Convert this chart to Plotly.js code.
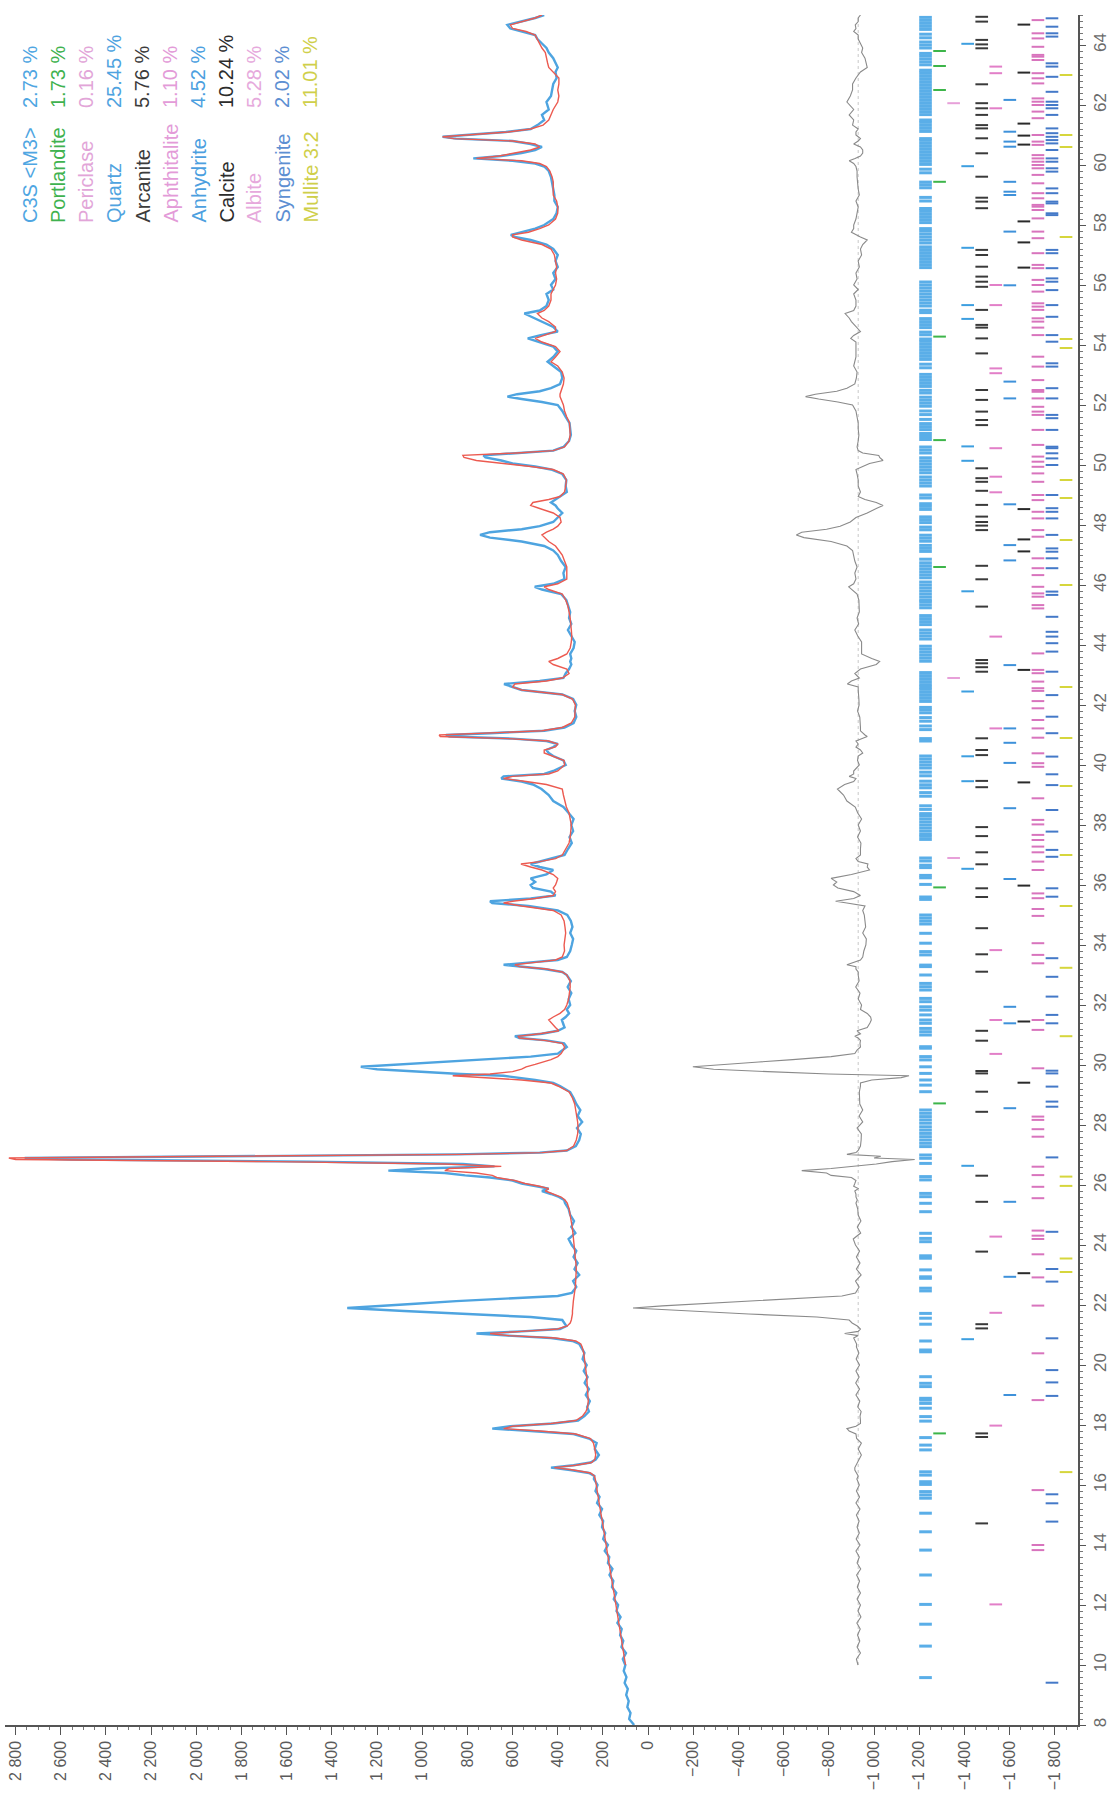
<!DOCTYPE html>
<html><head><meta charset="utf-8">
<script src="https://cdn.plot.ly/plotly-3.0.1.min.js"></script>
<style>html,body{margin:0;padding:0;background:#fff}#chart{width:1109px;height:1793px}</style>
</head><body><div id="chart"></div>
<script>
// ---------- pattern data (2θ in degrees, intensity in counts) ----------
const twoTheta = [
 8.0, 8.2, 8.4, 8.6, 8.8, 9.0, 9.2, 9.4, 9.6, 9.8, 10.0,
 10.2, 10.4, 10.6, 10.8, 11.0, 11.2, 11.4, 11.6, 11.8, 12.0, 12.2, 12.4, 12.6, 12.8, 13.0, 13.2, 13.4, 13.6, 13.8, 14.0, 14.2, 14.4, 14.6, 14.8, 15.0, 15.2, 15.4, 15.6, 15.8, 16.0, 16.2,
 16.3, 16.4, 16.5, 16.58, 16.66, 16.75, 16.85, 17.0, 17.2, 17.4, 17.55, 17.7, 17.8, 17.88, 17.96, 18.05, 18.15, 18.3, 18.45, 18.6,
 18.8, 19.0, 19.2, 19.4, 19.6, 19.8, 20.0, 20.2, 20.4, 20.6,
 20.7, 20.8, 20.9, 20.98, 21.05, 21.12, 21.2, 21.3, 21.4, 21.5, 21.6, 21.7, 21.8, 21.9, 21.97, 22.04, 22.13, 22.22, 22.3, 22.4,
 22.6, 22.8, 23.0, 23.2, 23.4, 23.6, 23.8, 24.0, 24.2, 24.4, 24.6, 24.8, 25.0, 25.2, 25.4,
 25.5, 25.6, 25.7, 25.8, 25.88, 25.96, 26.05, 26.15, 26.25, 26.32, 26.4, 26.48, 26.55, 26.62, 26.7, 26.78, 26.85, 26.9, 26.96, 27.02, 27.08, 27.15, 27.3,
 27.5, 27.7, 27.9, 28.1, 28.3, 28.5, 28.7, 28.9, 29.1, 29.3,
 29.4, 29.5, 29.58, 29.64, 29.7, 29.78, 29.86, 29.94, 30.02, 30.1, 30.18, 30.28, 30.38, 30.5,
 30.6, 30.72, 30.82, 30.9, 30.96, 31.04, 31.14, 31.25, 31.4, 31.5, 31.6, 31.72, 31.85, 32.0,
 32.2, 32.4, 32.6, 32.8, 33.0, 33.1, 33.2, 33.28, 33.34, 33.42, 33.5, 33.6, 33.8, 34.0, 34.2, 34.4, 34.6, 34.8, 35.0, 35.15, 35.3, 35.4, 35.46, 35.55, 35.65, 35.78, 35.9, 36.0, 36.1, 36.22, 36.35, 36.5, 36.6, 36.7, 36.78, 36.88, 37.0, 37.2, 37.4, 37.6, 37.8, 38.0, 38.2, 38.4, 38.6, 38.8, 39.0, 39.2, 39.35, 39.45, 39.55, 39.62, 39.7, 39.8, 39.9, 40.0,
 40.15, 40.3, 40.4, 40.5, 40.6, 40.7, 40.8, 40.88, 40.95, 41.0, 41.06, 41.14, 41.25, 41.4, 41.6, 41.8, 42.0, 42.2, 42.35, 42.5, 42.6, 42.7, 42.8, 42.9, 43.05, 43.2, 43.35, 43.45, 43.55, 43.7, 43.9, 44.1, 44.3, 44.5, 44.7, 44.9, 45.1, 45.3,
 45.5, 45.7, 45.85, 45.94, 46.04, 46.2, 46.4, 46.6, 46.8, 47.0, 47.15, 47.3, 47.45, 47.58, 47.67, 47.76, 47.86, 47.96, 48.1, 48.25, 48.4, 48.55, 48.65, 48.75, 48.85, 48.95, 49.1, 49.3, 49.5, 49.7, 49.85, 49.95, 50.05, 50.15, 50.25, 50.32, 50.4, 50.48, 50.6, 50.8,
 51.0, 51.2, 51.4, 51.6, 51.8, 52.0, 52.1, 52.2, 52.28, 52.36, 52.46, 52.56, 52.7, 52.9, 53.1, 53.3, 53.44, 53.6, 53.78, 53.95, 54.1, 54.22, 54.32, 54.45, 54.6, 54.78, 54.9, 55.05, 55.15, 55.3, 55.5,
 55.7, 55.85, 56.0, 56.2, 56.4, 56.6, 56.8, 57.0, 57.2, 57.35, 57.5, 57.6, 57.67, 57.76, 57.88, 58.0, 58.2, 58.4, 58.6, 58.8, 59.0, 59.2, 59.44, 59.6, 59.8, 59.95, 60.05, 60.14, 60.22, 60.3, 60.4, 60.5, 60.6, 60.7, 60.8, 60.88, 60.94, 61.0, 61.1, 61.2, 61.33, 61.5, 61.67, 61.85, 62.1, 62.3, 62.5, 62.7, 62.9, 63.1, 63.25, 63.4, 63.56, 63.75, 63.9, 64.05, 64.2, 64.33, 64.45, 64.55, 64.67, 64.78, 64.9, 65.0
];
const observed = [
 62, 84, 78, 92, 86, 97, 90, 104, 96, 108, 101,
 112, 98, 118, 110, 124, 117, 136, 122, 140, 133, 152, 141, 160, 154, 171, 158, 178, 172, 192, 178, 199, 190, 204, 199, 216, 204, 226, 215, 233, 224, 240,
 238, 262, 345, 430, 330, 255, 232, 218, 236, 228, 262, 330, 520, 690, 610, 420, 310, 282, 262, 270,
 258, 276, 262, 281, 268, 285, 272, 290, 282, 300,
 305, 335, 430, 620, 760, 560, 390, 362, 372, 380, 520, 820, 1080, 1332, 1200, 1030, 850, 600, 400, 338,
 318, 332, 305, 326, 312, 330, 318, 338, 352, 322, 340, 328, 345, 352, 368,
 372, 395, 430, 470, 440, 500, 560, 600, 700, 810, 900, 1150, 1000, 680, 820, 1500, 2550, 2760, 1800, 850, 480, 360, 320,
 305, 298, 315, 292, 312, 300, 318, 330, 345, 390,
 420, 500, 570, 640, 830, 1000, 1200, 1272, 1100, 900, 720, 520, 400, 380,
 360, 372, 450, 570, 590, 470, 400, 370, 378, 382, 365, 350, 360, 345,
 352, 340, 356, 342, 360, 380, 460, 580, 640, 520, 400, 360, 345, 338, 332, 345, 335, 342, 358, 400, 530, 690, 700, 520, 410, 430, 510, 520, 500, 520, 450, 420, 480, 520, 480, 420, 370, 355, 338, 348, 332, 340, 330, 352, 375, 420, 440, 472, 510, 560, 650, 640, 460, 420, 390, 365,
 375, 420, 440, 450, 420, 400, 450, 600, 880, 895, 700, 460, 370, 330, 318, 325, 318, 332, 380, 560, 600, 638, 480, 375, 365, 350, 340, 345, 340, 345, 330, 325, 340, 355, 340, 350, 345, 352,
 362, 385, 470, 502, 420, 370, 375, 365, 385, 400, 420, 460, 560, 700, 744, 700, 560, 480, 420, 400, 380, 400, 410, 430, 410, 390, 360, 365, 362, 380, 430, 500, 600, 650, 720, 729, 560, 420, 375, 350,
 342, 345, 348, 365, 380, 400, 470, 560, 623, 580, 480, 430, 390, 380, 385, 420, 445, 420, 400, 420, 480, 533, 480, 400, 420, 470, 510, 548, 480, 450, 440,
 450, 420, 430, 410, 420, 400, 410, 400, 420, 450, 520, 590, 608, 560, 500, 460, 420, 405, 400, 415, 415, 420, 425, 430, 440, 460, 500, 600, 774, 650, 560, 500, 470, 520, 600, 850, 910, 800, 630, 520, 490, 460, 470, 440, 450, 430, 425, 420, 405, 410, 400, 410, 420, 440, 450, 470, 490, 500, 560, 610, 623, 560, 500, 460
];
const calculated = [
 null, null, null, null, null, null, null, null, null, null, 100,
 104, 108, 113, 117, 121, 126, 130, 134, 139, 143, 147, 151, 156, 160, 164, 169, 173, 177, 182, 186, 190, 195, 199, 203, 208, 212, 216, 221, 225, 229, 234,
 238, 255, 330, 415, 320, 250, 236, 232, 236, 242, 255, 320, 480, 640, 600, 430, 320, 290, 275, 268,
 265, 266, 268, 270, 272, 275, 278, 281, 285, 292,
 298, 320, 410, 620, 700, 560, 400, 358, 345, 340, 337, 335, 335, 335, 333, 332, 331, 330, 328, 326,
 322, 320, 318, 318, 320, 322, 324, 326, 330, 333, 336, 340, 345, 350, 358,
 368, 385, 420, 455, 440, 480, 545, 590, 670, 690, 760, 900, 880, 650, 900, 1650, 2800, 2830, 1900, 800, 470, 360, 330,
 318, 312, 310, 312, 316, 320, 325, 335, 350, 400,
 430, 560, 760, 865, 700, 600, 560, 540, 500, 460, 430, 400, 385, 375,
 370, 380, 460, 570, 575, 480, 395, 410, 430, 440, 420, 390, 370, 360,
 352, 348, 345, 346, 360, 380, 450, 570, 590, 500, 410, 380, 370, 372, 368, 365, 368, 372, 385, 420, 560, 640, 600, 500, 420, 410, 420, 410, 405, 400, 420, 470, 520, 563, 480, 410, 380, 365, 350, 345, 342, 340, 345, 350, 362, 370, 375, 380, 450, 540, 640, 600, 440, 400, 385, 370,
 372, 420, 460, 460, 410, 400, 440, 620, 920, 925, 720, 470, 380, 340, 325, 322, 322, 335, 380, 560, 600, 590, 450, 380, 350, 360, 420, 440, 400, 360, 345, 340, 338, 340, 342, 345, 350, 355,
 365, 380, 440, 460, 400, 360, 360, 360, 370, 380, 395, 410, 440, 460, 470, 450, 420, 400, 385, 390, 420, 480, 520, 510, 440, 390, 370, 365, 362, 375, 420, 520, 650, 760, 815, 820, 580, 420, 370, 350,
 345, 345, 348, 360, 370, 375, 380, 385, 390, 390, 385, 380, 375, 372, 380, 400, 430, 410, 390, 410, 470, 500, 460, 410, 410, 440, 470, 490, 460, 440, 430,
 430, 420, 410, 405, 410, 405, 410, 415, 430, 470, 560, 600, 600, 530, 480, 440, 410, 400, 400, 405, 420, 420, 420, 425, 435, 450, 480, 560, 760, 660, 580, 520, 480, 500, 600, 860, 910, 790, 620, 520, 465, 440, 430, 420, 400, 395, 400, 395, 395, 420, 440, 445, 450, 455, 470, 480, 490, 500, 540, 600, 610, 560, 500, 470
];

// ---------- phases (legend) ----------
const phaseNames = ["C3S &lt;M3&gt;", "Portlandite", "Periclase", "Quartz", "Arcanite", "Aphthitalite", "Anhydrite", "Calcite", "Albite", "Syngenite", "Mullite 3:2"];
const phasePercents = ["2.73 %", "1.73 %", "0.16 %", "25.45 %", "5.76 %", "1.10 %", "4.52 %", "10.24 %", "5.28 %", "2.02 %", "11.01 %"];

// ---------- reflection positions (2θ) per phase ----------
const c3sPeaks = [9.58, 10.63, 11.36, 12.02, 13.0, 13.83, 14.44, 15.06, 15.56, 15.67, 15.78, 16.02, 16.11, 16.33, 16.44, 17.17, 17.33, 17.58, 18.13, 18.28, 18.56, 18.72, 18.83, 18.89, 19.28, 19.39, 19.61, 20.44, 20.5, 20.8, 21.36, 21.56, 21.72, 22.47, 22.56, 22.89, 22.94, 23.17, 23.56, 23.64, 24.11, 24.22, 24.39, 25.11, 25.39, 25.61, 25.72, 26.17, 26.28, 26.72, 26.89, 27.0, 27.28, 27.39, 27.5, 27.61, 27.72, 27.83, 27.94, 28.06, 28.17, 28.28, 28.39, 28.5, 29.11, 29.33, 29.5, 29.72, 29.94, 30.17, 30.28, 30.56, 30.61, 31.0, 31.11, 31.22, 31.39, 31.5, 31.67, 31.83, 31.94, 32.11, 32.22, 32.5, 32.61, 32.72, 33.0, 33.28, 33.33, 33.67, 33.78, 34.06, 34.39, 34.7, 34.8, 34.9, 35.0,
 35.52, 35.6, 36.02, 36.24, 36.32, 36.58, 36.66, 36.8, 36.9, 37.52, 37.62, 37.7, 37.8, 37.9, 38.0, 38.1, 38.2, 38.3, 38.38, 38.52, 38.64, 38.96, 39.08, 39.24, 39.34, 39.46, 39.64, 39.76, 39.9, 40.0, 40.1, 40.2, 40.3, 40.8, 40.88, 41.18, 41.3, 41.46, 41.58, 41.74, 41.84, 41.92, 42.12, 42.22, 42.32, 42.42, 42.52, 42.6, 42.68, 42.78, 42.88, 42.98, 43.08, 43.46, 43.56, 43.66, 43.76, 43.86, 43.96, 44.2, 44.3, 44.4, 44.5, 44.68, 44.78, 44.88, 44.98, 45.24, 45.34, 45.44,
 45.5, 45.6, 45.7, 45.8, 45.9, 46.0, 46.1, 46.24, 46.34, 46.44, 46.54, 46.64, 46.74, 46.86, 47.12, 47.22, 47.32, 47.46, 47.56, 47.66, 47.84, 47.93, 48.08, 48.18, 48.27, 48.52, 48.62, 48.71, 48.9, 49.0, 49.3, 49.4, 49.5, 49.6, 49.74, 49.84, 49.94, 50.04, 50.14, 50.24, 50.4, 50.5, 50.6, 50.85, 50.95, 51.05, 51.18, 51.28, 51.38, 51.52, 51.68, 51.8, 51.96, 52.06, 52.16, 52.26, 52.4, 52.49, 52.62, 52.72, 52.82, 52.92, 53.02, 53.24, 53.36, 53.52, 53.62, 53.72, 53.82, 53.92, 54.02, 54.12, 54.2, 54.34, 54.43, 54.58, 54.68, 54.78, 54.88, 55.08, 55.16, 55.3, 55.4,
 55.5, 55.6, 55.7, 55.8, 55.9, 56.0, 56.1, 56.58, 56.68, 56.78, 56.88, 56.98, 57.08, 57.18, 57.27, 57.4, 57.5, 57.6, 57.7, 57.8, 57.88, 58.08, 58.18, 58.28, 58.38, 58.48, 58.55, 58.8, 58.92, 59.24, 59.34, 59.43, 59.74, 59.86, 60.02, 60.12, 60.22, 60.32, 60.42, 60.52, 60.62, 60.72, 60.82, 60.88, 61.12, 61.22, 61.32, 61.42, 61.5, 61.68, 61.78, 61.88, 61.98, 62.08, 62.18, 62.28, 62.38, 62.48, 62.58, 62.68, 62.78, 62.88, 62.98, 63.08, 63.16, 63.34, 63.44, 63.54, 63.64, 63.72, 63.9, 64.0, 64.1, 64.24, 64.36, 64.52, 64.62, 64.72, 64.82, 64.92];
const portlanditePeaks = [17.72, 28.72, 35.92, 46.6, 50.83, 54.28, 59.44, 62.5, 63.3, 63.8];
const periclasePeaks = [36.9, 42.9, 62.06];
const quartzPeaks = [20.86, 26.64, 36.54, 39.46, 40.29, 42.45, 45.79, 50.14, 50.62, 54.87, 55.33, 57.24, 59.96, 64.04];
const arcanitePeaks = [14.72, 17.6, 17.72, 21.22, 21.36, 23.78, 25.44, 26.31, 28.44, 29.11, 29.72, 29.8, 30.81, 31.14, 33.11, 33.69, 34.56, 35.6, 35.89, 36.69, 37.09, 37.63, 37.93, 39.26, 39.47, 40.33, 40.5, 40.89, 43.11, 43.26, 43.39, 43.5, 45.28, 46.19, 46.64, 47.83, 47.98, 48.1, 48.28, 48.67, 49.14, 49.44, 49.56, 49.89, 51.33, 51.5, 51.78, 52.17, 52.5, 53.72, 54.22, 54.58, 54.67, 55.17, 55.94, 56.11, 56.28, 56.61, 57.0, 57.17, 58.56, 58.78, 58.91, 59.61, 60.39, 60.89, 61.22, 61.33, 61.67, 61.89, 62.06, 62.69, 63.89, 64.02, 64.17, 64.78, 64.94];
const aphthitalitePeaks = [12.02, 17.98, 21.74, 24.28, 30.37, 31.5, 33.83, 41.22, 44.28, 49.09, 49.61, 50.56, 53.06, 53.22, 55.33, 56.0, 61.89, 63.06, 63.28];
const anhydritePeaks = [19.0, 22.94, 25.44, 28.56, 31.39, 31.94, 36.2, 38.56, 40.07, 40.74, 41.22, 43.33, 46.82, 47.33, 48.69, 52.22, 52.78, 55.99, 57.78, 59.0, 59.11, 59.44, 60.61, 60.78, 61.11, 62.17];
const calcitePeaks = [23.06, 29.41, 31.45, 35.98, 39.42, 43.17, 47.12, 47.52, 48.53, 56.58, 57.42, 58.12, 60.68, 60.98, 61.38, 63.08, 64.68];
const albitePeaks = [13.83, 14.0, 15.83, 18.83, 20.39, 21.98, 22.92, 23.69, 24.2, 24.31, 24.48, 25.56, 25.94, 26.33, 26.61, 27.61, 27.86, 28.17, 28.28, 29.89, 31.17, 31.5, 33.39, 33.67, 34.06, 34.97, 35.2, 35.56, 35.72, 36.5, 36.78, 37.09, 37.28, 37.5, 37.67, 38.02, 38.17, 38.89, 39.94, 40.06, 40.39, 40.91, 41.22, 41.5, 41.89, 42.13, 42.47, 42.56, 42.78, 43.06, 43.17, 43.72, 45.22, 45.33, 45.61, 45.72, 45.94, 46.33, 46.56, 46.89, 47.61, 47.83, 48.22, 48.44, 48.83, 49.0, 49.44, 49.72, 49.94, 50.11, 50.28, 50.67, 51.17, 51.67, 51.78, 51.94, 52.22, 52.44, 52.5, 52.83, 53.28, 53.61, 54.33, 54.58, 54.78, 54.89, 55.17, 55.28, 55.39, 55.78, 56.0, 56.17, 56.56, 56.67, 57.06, 57.56, 57.78, 58.22, 58.5, 58.61, 58.67, 58.89, 59.06, 59.39, 59.67, 59.89, 60.0, 60.11, 60.22, 60.33, 60.67, 60.78, 61.0, 61.56, 61.78, 62.0, 62.11, 62.22, 62.72, 62.89, 63.06, 63.5, 63.61, 63.67, 63.94, 64.22, 64.39, 64.83];
const syngenitePeaks = [9.41, 14.78, 15.39, 15.69, 18.97, 19.42, 19.83, 20.89, 22.78, 23.2, 24.44, 26.92, 28.61, 28.78, 29.28, 29.72, 29.81, 31.39, 31.67, 32.28, 32.94, 33.56, 35.61, 35.89, 36.94, 37.17, 37.78, 38.5, 39.33, 39.69, 40.28, 41.06, 41.61, 42.33, 43.11, 43.78, 44.06, 44.28, 44.44, 44.94, 45.67, 45.78, 46.56, 46.89, 47.11, 47.22, 47.67, 48.22, 48.44, 48.56, 49.0, 50.0, 50.22, 50.39, 50.56, 50.61, 51.17, 51.56, 51.67, 52.22, 52.56, 53.28, 53.39, 54.11, 54.33, 54.94, 55.33, 55.83, 56.11, 56.22, 56.56, 57.06, 57.17, 58.33, 58.39, 58.72, 58.78, 59.06, 59.22, 59.78, 59.89, 60.11, 60.22, 60.5, 60.72, 60.83, 60.94, 61.06, 61.22, 61.67, 61.89, 62.0, 62.11, 62.44, 62.94, 63.28, 63.39, 64.28, 64.39, 64.61, 64.89];
const mullitePeaks = [16.43, 23.1, 23.55, 25.97, 26.28, 30.96, 33.24, 35.3, 37.0, 39.3, 40.9, 42.6, 46.0, 47.5, 48.9, 49.5, 53.9, 54.2, 57.6, 60.6, 61.0, 63.0];

// ---------- styling ----------
const phasePeaks = [c3sPeaks, portlanditePeaks, periclasePeaks, quartzPeaks, arcanitePeaks, aphthitalitePeaks, anhydritePeaks, calcitePeaks, albitePeaks, syngenitePeaks, mullitePeaks];
const phaseTextColors = ["#4fa6e2", "#3fb24f", "#e2a5d8", "#4fa3e0", "#3c3c3c", "#e39bd8", "#4c9fdf", "#2c2c2c", "#e6a9dc", "#5d8fd2", "#cfcf4a"];
const phaseTickColors = ["#5aaee8", "#3db54a", "#e7a0d9", "#3d9fe0", "#3a3a3a", "#e27fc8", "#3e91da", "#2a2a2a", "#d874bd", "#4479c8", "#d6d63c"];
const DIFF_OFFSET = -930;
const FONT = "Liberation Sans, Arial, sans-serif";

const traces = [];
traces.push({x: observed, y: twoTheta, type: 'scatter', mode: 'lines', line: {color: '#4ea4e0', width: 2.4}, hoverinfo: 'skip'});
traces.push({x: calculated, y: twoTheta, type: 'scatter', mode: 'lines', line: {color: '#ec5a50', width: 1.4}, connectgaps: false, hoverinfo: 'skip'});
const diffX = [], diffY = [];
for (let i = 0; i < twoTheta.length; i++) {
  if (calculated[i] !== null) { diffX.push(observed[i] - calculated[i] + DIFF_OFFSET); diffY.push(twoTheta[i]); }
}
traces.push({x: diffX, y: diffY, type: 'scatter', mode: 'lines', line: {color: '#8a8a8a', width: 1.1}, hoverinfo: 'skip'});

phasePeaks.forEach((peaks, i) => {
  const x0 = -1200 - 62.2 * i, x1 = x0 - 56;
  const xs = [], ys = [];
  peaks.forEach(p => { xs.push(x0, x1, null); ys.push(p, p, null); });
  traces.push({x: xs, y: ys, type: 'scatter', mode: 'lines', line: {color: phaseTickColors[i], width: i === 0 ? 3 : 2}, hoverinfo: 'skip'});
});

const plotL = 5, plotR = 1078, plotT = 15, plotB = 1725;
const px2x = px => (px - plotL) / (plotR - plotL);
const px2y = py => (plotB - py) / (plotB - plotT);
const annotations = [];
phaseNames.forEach((n, i) => {
  const cx = 30 + 28 * i;
  annotations.push({xref: 'paper', yref: 'paper', x: px2x(cx), y: px2y(225), xanchor: 'center', yanchor: 'bottom', text: n, textangle: -90, showarrow: false, font: {family: FONT, size: 20, color: phaseTextColors[i]}});
  annotations.push({xref: 'paper', yref: 'paper', x: px2x(cx), y: px2y(110), xanchor: 'center', yanchor: 'bottom', text: phasePercents[i], textangle: -90, showarrow: false, font: {family: FONT, size: 20, color: phaseTextColors[i]}});
});

const layout = {
  width: 1109, height: 1793,
  margin: {l: plotL, r: 1109 - plotR, t: plotT, b: 1793 - plotB, pad: 0},
  paper_bgcolor: '#ffffff', plot_bgcolor: '#ffffff',
  showlegend: false,
  separators: '. ',
  font: {family: FONT, color: '#555'},
  xaxis: {
    range: [2847, -1903], tickmode: 'linear', tick0: 0, dtick: 200, separatethousands: true,
    tickangle: -90, ticks: 'outside', ticklen: 8, tickwidth: 1, tickcolor: '#555',
    showline: true, linecolor: '#555', linewidth: 1.5, showgrid: false, zeroline: false,
    tickfont: {family: FONT, size: 16, color: '#5a5a5a'},
    minor: {dtick: 50, ticks: 'outside', ticklen: 3, tickcolor: '#777', showgrid: false}
  },
  yaxis: {
    range: [8, 65], side: 'right', tickmode: 'linear', tick0: 0, dtick: 2,
    tickangle: -90, ticks: 'outside', ticklen: 6, tickwidth: 1, tickcolor: '#555',
    showline: true, linecolor: '#555', linewidth: 1.5, showgrid: false, zeroline: false,
    tickfont: {family: FONT, size: 17, color: '#6a6a6a'},
    minor: {dtick: 0.2, ticks: 'outside', ticklen: 3, tickcolor: '#777', showgrid: false}
  },
  shapes: [{type: 'line', xref: 'x', yref: 'y', x0: DIFF_OFFSET, x1: DIFF_OFFSET, y0: 10, y1: 65, line: {color: '#c8c8c8', width: 1, dash: 'dot'}, layer: 'below'}],
  annotations: annotations
};

if (observed.length !== twoTheta.length || calculated.length !== twoTheta.length) {
  console.error('length mismatch', twoTheta.length, observed.length, calculated.length);
}
Plotly.newPlot('chart', traces, layout, {staticPlot: true, displayModeBar: false});
</script>
</body></html>
